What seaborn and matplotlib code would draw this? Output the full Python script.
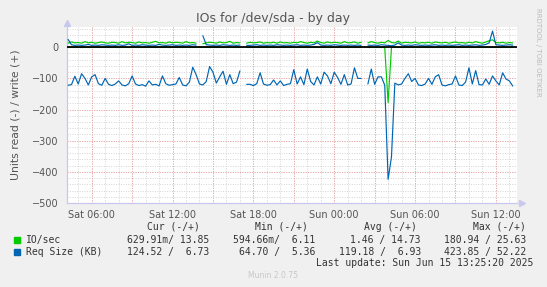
import numpy as np
import pandas as pd
import matplotlib
matplotlib.use("Agg")
import matplotlib.pyplot as plt
import matplotlib.dates as mdates
from matplotlib.patches import Rectangle
import seaborn as sns

nan = np.nan

# 15-minute samples starting Sat 2025-06-14 04:15
start_time = "2025-06-14 04:15"
step = "15min"

# Req Size (KB) read (negative side)
rd_kb = [-122, -120, -93, -118, -85, -100, -121, -95, -88, -117,
         -122, -100, -119, -123, -118, -108, -121, -124, -117, -92,
         -118, -123, -120, -125, -108, -121, -119, -124, -92, -117,
         -122, -120, -118, -97, -121, -124, -112, -64, -88, -118,
         -121, -110, -62, -80, -115, -95, -77, -119, -88, -117,
         -112, -76, nan, -119, -119, -123, -117, -82, -118, -122,
         -120, -105, -121, -108, -123, -119, -117, -72, -118, -95,
         -120, -70, -110, -121, -95, -118, -80, -92, -117, -80,
         -97, -119, -88, -121, -118, -66, -100, -100, nan, -118,
         -70, -119, -95, -95, -122, -424, -352, -115, -121, -118,
         -100, -85, -110, -100, -121, -123, -118, -100, -119, -95,
         -88, -121, -124, -120, -118, -92, -121, -123, -112, -66,
         -118, -75, -120, -121, -102, -119, -92, -108, -121, -82,
         -102, -108, -124.5]

# Req Size (KB) write (positive side)
wr_kb = [25, 8, 6, 7, 6, 7, 9, 6, 7, 6,
         8, 7, 6, 7, 6, 8, 6, 7, 11, 6,
         7, 6, 8, 7, 6, 7, 6, 9, 7, 6,
         7, 8, 6, 7, 6, 7, 6, 8, 7, nan,
         37, 8, 7, 6, 7, 6, 8, 7, 6, 7,
         6, 7, nan, 6, 6, 7, 8, 6, 7, 6,
         7, 6, 8, 7, 6, 7, 6, 7, 8, 6,
         7, 6, 7, 9, 15, 7, 6, 7, 6, 8,
         7, 6, 7, 6, 7, 6, 7, 6, nan, 7,
         6, 7, 6, 8, 7, 6, 5, 7, 14, 7,
         6, 7, 6, 8, 7, 6, 7, 6, 7, 8,
         6, 7, 6, 7, 6, 7, 8, 6, 7, 6,
         7, 8, 6, 7, 9, 14, 52, 8, 7, 6,
         7, 8, 6.73]

# IO/sec write (positive side)
wr_io = [13, 17, 14, 15, 13, 18, 14, 16, 13, 15,
         17, 14, 13, 16, 15, 13, 18, 14, 16, 15,
         13, 17, 14, 15, 13, 16, 19, 14, 15, 13,
         17, 14, 16, 15, 13, 18, 14, 15, 13, nan,
         11, 14, 16, 15, 13, 17, 14, 15, 19, 13,
         15, 14, nan, 13, 16, 14, 15, 17, 13, 15,
         14, 16, 13, 17, 14, 15, 13, 16, 14, 18,
         15, 13, 16, 14, 20, 15, 13, 17, 14, 16,
         15, 13, 18, 14, 15, 17, 13, 16, nan, 14,
         18, 15, 13, 16, 14, 22, 15, 14, 20, 13,
         16, 15, 14, 17, 13, 15, 14, 16, 13, 17,
         15, 14, 16, 13, 15, 17, 14, 15, 13, 16,
         14, 18, 15, 13, 17, 21, 24, 15, 14, 16,
         13, 15, 13.85]

# IO/sec read (negative side)
rd_io = [-0.6, -0.7, -0.6, -0.6, -0.8, -0.6, -0.6, -0.7, -0.6, -0.6,
         -0.6, -0.7, -0.6, -0.6, -0.6, -0.8, -0.6, -0.6, -0.7, -0.6,
         -0.6, -0.6, -0.7, -0.6, -0.6, -0.6, -0.7, -0.6, -0.6, -0.6,
         -0.7, -0.6, -0.6, -0.6, -0.7, -0.6, -0.6, -0.6, -0.7, -0.6,
         -0.6, -0.6, -0.7, -0.6, -0.6, -0.6, -0.7, -0.6, -0.6, -0.6,
         -0.7, -0.6, nan, -0.6, -0.6, -0.7, -0.6, -0.6, -0.6, -0.7,
         -0.6, -0.6, -0.6, -0.7, -0.6, -0.6, -0.6, -0.7, -0.6, -0.6,
         -0.6, -0.7, -0.6, -0.6, -0.6, -0.7, -0.6, -0.6, -0.6, -0.7,
         -0.6, -0.6, -0.6, -0.7, -0.6, -0.6, -0.6, -0.7, nan, -0.6,
         -0.6, -0.7, -0.6, -0.6, -0.6, -178, -0.6, -0.6, -0.6, -0.7,
         -0.6, -0.6, -0.6, -0.7, -0.6, -0.6, -0.6, -0.7, -0.6, -0.6,
         -0.6, -0.7, -0.6, -0.6, -0.6, -0.7, -0.6, -0.6, -0.6, -0.7,
         -0.6, -0.6, -0.6, -0.7, -0.6, -0.6, -0.6, -0.7, -0.6, -0.6,
         -0.6, -0.6, -0.63]

series_names = ["IO/sec", "Req Size (KB)"]
series_colors = ["#00CC00", "#0066B3"]
title = "IOs for /dev/sda - by day"
ylabel = "Units read (-) / write (+)"
cur_vals = ["629.91m/ 13.85", "124.52 /  6.73"]
min_vals = ["594.66m/  6.11", "64.70 /  5.36"]
avg_vals = ["1.46 / 14.73", "119.18 /  6.93"]
max_vals = ["180.94 / 25.63", "423.85 / 52.22"]
headers = ["Cur (-/+)", "Min (-/+)", "Avg (-/+)", "Max (-/+)"]
last_update = "Last update: Sun Jun 15 13:25:20 2025"
version = "Munin 2.0.75"
side_text = "RRDTOOL / TOBI OETIKER"

times = pd.date_range(start_time, periods=len(rd_kb), freq=step)

def make_df(vals):
    s = pd.Series(vals, dtype=float)
    seg = s.isna().cumsum()
    df = pd.DataFrame({"t": times, "v": s, "seg": seg})
    return df.dropna()

sns.set_style("white")
plt.rcParams["font.family"] = ["DejaVu Sans"]

W, H = 547, 287
fig = plt.figure(figsize=(W / 100, H / 100), dpi=100, facecolor="#F0F0F0")
L, R, T, B = 67, 517, 27, 203
ax = fig.add_axes([L / W, 1 - B / H, (R - L) / W, (B - T) / H])
ax.set_facecolor("white")

ymin, ymax = -500, 65
ax.set_ylim(ymin, ymax)
xmin = pd.Timestamp("2025-06-14 04:10")
xmax = pd.Timestamp("2025-06-15 13:34")
ax.set_xlim(xmin, xmax)

ax.xaxis.set_major_locator(mdates.HourLocator(byhour=[0, 6, 12, 18]))
ax.xaxis.set_major_formatter(mdates.DateFormatter("%a %H:%M"))
ax.xaxis.set_minor_locator(mdates.HourLocator())
ax.set_yticks([-500, -400, -300, -200, -100, 0])
ax.set_yticks(np.arange(-480, 65, 20), minor=True)

dot = (0, (1, 1.5))
ax.grid(False)
for h in mdates.HourLocator().tick_values(xmin, xmax):
    ax.axvline(h, color="#D4D4D4", lw=0.7, ls=dot, zorder=0)
for h in mdates.HourLocator(byhour=range(0, 24, 3)).tick_values(xmin, xmax):
    ax.axvline(h, color="#F0A0A0", lw=0.7, ls=dot, zorder=0.5)
for yv in np.arange(-480, 65, 20):
    ax.axhline(yv, color="#D4D4D4", lw=0.7, ls=dot, zorder=0)
for yv in [-400, -300, -200, -100]:
    ax.axhline(yv, color="#F0A0A0", lw=0.7, ls=dot, zorder=0.5)

for vals, col in [(rd_io, series_colors[0]), (wr_io, series_colors[0]),
                  (rd_kb, series_colors[1]), (wr_kb, series_colors[1])]:
    df = make_df(vals)
    sns.lineplot(data=df, x="t", y="v", units="seg", estimator=None,
                 color=col, lw=0.85, ax=ax, zorder=3)

ax.axhline(0, color="black", lw=1.3, zorder=4)

ax.set_xlabel("")
ax.set_ylabel(ylabel, fontsize=7.8, color="#555555", labelpad=8)

for sp in ["top", "right"]:
    ax.spines[sp].set_visible(False)
for sp in ["left", "bottom"]:
    ax.spines[sp].set_color("#C8C8EE")
    ax.spines[sp].set_linewidth(0.9)

ax.tick_params(axis="both", which="major", labelsize=7, labelcolor="#555555",
               length=2, width=0.7, color="#F0A0A0", pad=3)
ax.tick_params(axis="both", which="minor", length=2, width=0.7, color="#D4D4D4")
ax.tick_params(axis="y", which="both", length=0, pad=6)

ax.plot([0], [1.025], marker="^", ms=4, color="#C8C8EE", transform=ax.transAxes,
        clip_on=False, zorder=5)
ax.plot([1.01], [0], marker=">", ms=4, color="#C8C8EE", transform=ax.transAxes,
        clip_on=False, zorder=5)

def fx(x):
    return x / W

def fy(y):
    return 1 - y / H

fig.text(fx(273.5), fy(18.5), title, ha="center", va="center", fontsize=9,
         color="#555555")
fig.text(fx(538), fy(52), side_text, ha="center", va="center", fontsize=5,
         rotation=270, color="#BBBBBB")

mono = "DejaVu Sans Mono"
tc = "#333333"
header_x = [147, 255, 364, 473]
for hx, htxt in zip(header_x, headers):
    fig.text(fx(hx), fy(226.5), htxt, ha="left", va="center", fontsize=7,
             family=mono, color=tc)

row_y = [240, 251.7]
col_right = [209, 315, 421, 526]
for i, name in enumerate(series_names):
    fig.patches.append(Rectangle((fx(14), fy(242.8 + 11.9 * i)), 5.5 / W, 5.5 / H,
                                 transform=fig.transFigure, color=series_colors[i],
                                 figure=fig))
    fig.text(fx(26), fy(row_y[i]), name, ha="left", va="center", fontsize=7,
             family=mono, color=tc)
    for cx, vals in zip(col_right, [cur_vals, min_vals, avg_vals, max_vals]):
        fig.text(fx(cx), fy(row_y[i]), vals[i], ha="right", va="center",
                 fontsize=7, family=mono, color=tc)

fig.text(fx(533), fy(263.3), last_update, ha="right", va="center", fontsize=7,
         family=mono, color=tc)
fig.text(fx(273), fy(276), version, ha="center", va="center", fontsize=5.5,
         color="#C8C8C8")

fig.savefig("out.png", dpi=100, facecolor=fig.get_facecolor())
